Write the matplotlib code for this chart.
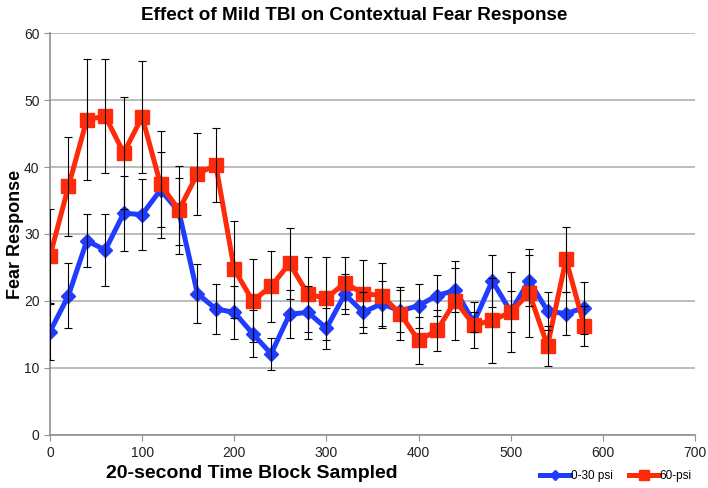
import numpy as np
import matplotlib.pyplot as plt
from matplotlib.lines import Line2D

plt.rcParams['font.family'] = ['Liberation Sans', 'DejaVu Sans']

# time blocks (seconds)
time_s = [0, 20, 40, 60, 80, 100, 120, 140, 160, 180, 200, 220, 240, 260, 280,
          300, 320, 340, 360, 380, 400, 420, 440, 460, 480, 500, 520, 540, 560, 580]

# 0-30 psi group
low_mean = [15.4, 20.8, 29.0, 27.6, 33.1, 32.9, 36.6, 33.3, 21.1, 18.8, 18.3, 15.1, 12.1, 18.0, 18.3,
            15.9, 21.0, 18.3, 19.6, 18.5, 19.3, 20.8, 21.6, 16.8, 23.0, 18.4, 23.0, 18.5, 18.1, 19.0]
low_err = [4.2, 4.9, 4.0, 5.4, 5.6, 5.3, 5.6, 5.0, 4.4, 3.7, 4.0, 3.5, 2.4, 3.6, 4.0,
           3.1, 3.0, 3.1, 3.4, 3.1, 3.3, 3.0, 3.3, 1.5, 3.9, 3.1, 3.8, 2.9, 3.2, 3.9]

# 60 psi group
high_mean = [26.7, 37.1, 47.1, 47.6, 42.1, 47.5, 37.4, 33.6, 39.0, 40.3, 24.7, 20.0, 22.2, 25.6, 21.0,
             20.4, 22.7, 21.1, 20.8, 18.1, 14.1, 15.6, 20.0, 16.4, 17.1, 18.3, 21.2, 13.3, 26.2, 16.2]
high_err = [7.0, 7.4, 9.0, 8.5, 8.3, 8.4, 8.0, 6.6, 6.1, 5.5, 7.3, 6.2, 5.3, 5.3, 5.6,
            6.2, 3.9, 5.0, 4.8, 4.0, 3.5, 3.1, 5.9, 3.5, 6.3, 6.0, 6.6, 3.0, 4.8, 3.0]

blue = '#1f3cff'
red = '#ff2a0a'

fig = plt.figure(figsize=(7.08, 4.88), dpi=100)
ax = fig.add_axes([0.0706, 0.109, 0.911, 0.823])

ax.plot(time_s, low_mean, color=blue, lw=3.6, marker='D', ms=7, mec=blue, zorder=3)
ax.plot(time_s, high_mean, color=red, lw=3.6, marker='s', ms=9.5, mec=red, zorder=4)
ax.errorbar(time_s, low_mean, yerr=low_err, fmt='none', ecolor='black', elinewidth=0.8,
            capsize=3, capthick=0.8, zorder=5)
ax.errorbar(time_s, high_mean, yerr=high_err, fmt='none', ecolor='black', elinewidth=0.8,
            capsize=3, capthick=0.8, zorder=5)

ax.set_xlim(0, 700)
ax.set_ylim(0, 60)
ax.set_xticks(range(0, 701, 100))
ax.set_yticks(range(0, 61, 10))
ax.yaxis.grid(True, color='#b0b0b0', lw=1.2)
ax.set_axisbelow(True)
for s in ['top', 'right']:
    ax.spines[s].set_visible(False)
for s in ['left', 'bottom']:
    ax.spines[s].set_color('#909090')
    ax.spines[s].set_linewidth(1.2)
ax.tick_params(colors='#909090', labelcolor='#222222', labelsize=10, length=4)
ax.tick_params(axis='x', pad=4)

fig.text(0.5, 0.968, 'Effect of Mild TBI on Contextual Fear Response', ha='center', va='center',
         fontsize=13.6, fontweight='bold')
fig.text(0.022, 0.52, 'Fear Response', rotation=90, ha='center', va='center',
         fontsize=13, fontweight='bold')
fig.text(0.356, 0.03, '20-second Time Block Sampled', ha='center', va='center',
         fontsize=14, fontweight='bold')

handles = [Line2D([], [], color=blue, lw=3.6, marker='D', ms=5),
           Line2D([], [], color=red, lw=3.6, marker='s', ms=7)]
fig.legend(handles, ['0-30 psi', '60-psi'], ncol=2, frameon=False, loc='center',
           bbox_to_anchor=(0.87, 0.024), fontsize=8.5, handlelength=2.5,
           handletextpad=0.1, columnspacing=1.4)

fig.savefig('out.png', dpi=100)
